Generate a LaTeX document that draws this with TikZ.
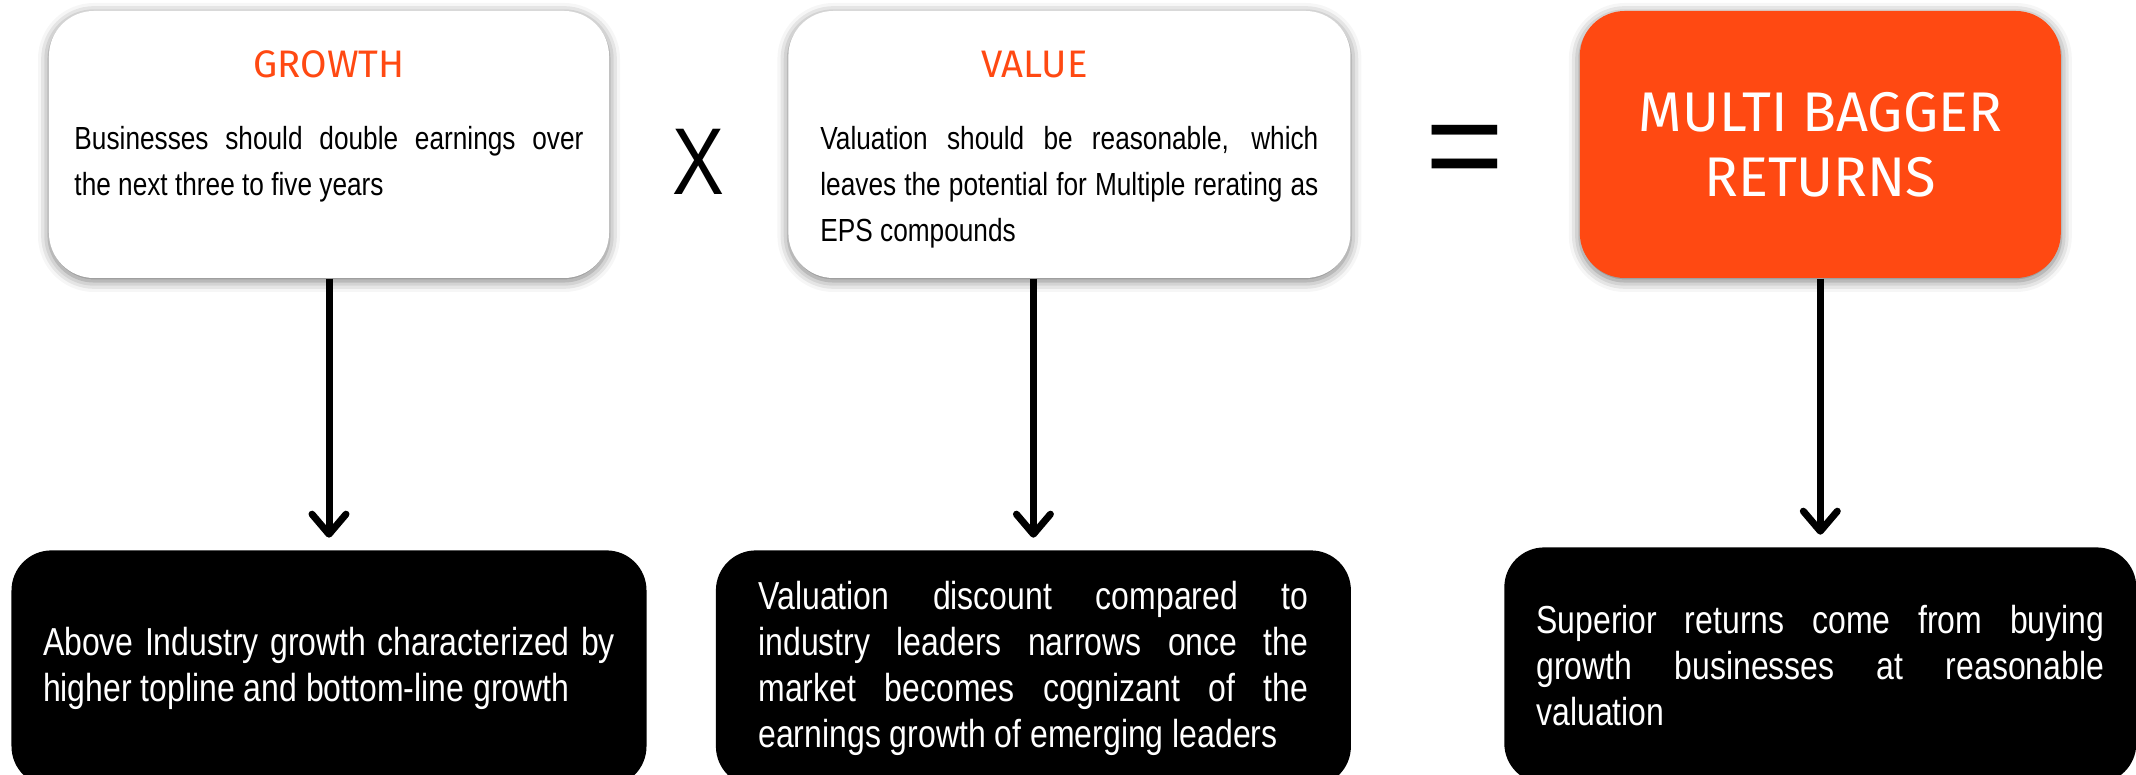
\documentclass[tikz,border=0pt]{standalone}
\usepackage{fontspec}
\setmainfont{Liberation Sans}[FakeStretch=0.82]
\newfontfamily\headfont{Fira Sans}
\newfontfamily\signfont{Liberation Sans}
\usepackage{tikz}
\usetikzlibrary{arrows.meta,positioning,calc,shadows.blur}
\definecolor{brandorange}{RGB}{255,73,18}
\hyphenpenalty=10000
\exhyphenpenalty=10000
\hbadness=10000

\begin{document}
\begin{tikzpicture}[
    topbox/.style={fill=white, rounded corners=0.45cm, minimum height=2.67cm, inner sep=0pt,
        blur shadow={shadow xshift=0cm, shadow yshift=-0.03cm, shadow blur radius=0.11cm, shadow opacity=55}},
    boxtitle/.style={text=brandorange, inner sep=0pt, font=\headfont\fontsize{10.9}{12}\selectfont},
    toptext/.style={anchor=north, align=justify, inner sep=0pt, font=\fontsize{9.1}{13.1}\selectfont},
    bottombox/.style={fill=black, text=white, rounded corners=0.4cm, minimum width=6.35cm, minimum height=2.36cm,
        inner sep=0pt, align=justify, font=\fontsize{11.1}{13}\selectfont},
    opsign/.style={inner sep=0pt},
    link/.style={line width=0.07cm, -{Straight Barb[length=0.2cm, width=0.34cm, round]}, shorten >=0.12cm}
]
            \useasboundingbox (0,0) rectangle (21.36,-7.75);
            \clip (0,0) rectangle (21.36,-7.75);

            % Growth
            \node[topbox, minimum width=5.60cm] (growth) at (3.29,-1.445) {};
            \node[boxtitle] (growthT) at ([yshift=-0.54cm]growth.north) {GROWTH};
            \node[toptext, text width=5.09cm] (growthD) at ([yshift=-1.15cm]growth.north) {
                Businesses should double earnings over\linebreak the next three to five years
            };

            % Value
            \node[topbox, minimum width=5.62cm, right=1.78cm of growth] (value) {};
            \node[boxtitle] (valueT) at ([xshift=-0.35cm, yshift=-0.54cm]value.north) {VALUE};
            \node[toptext, text width=4.98cm] (valueD) at ([yshift=-1.15cm]value.north) {
                Valuation should be reasonable, which\linebreak leaves the potential for Multiple rerating as\linebreak EPS compounds
            };

            % Result
            \node[topbox, minimum width=4.81cm, right=2.28cm of value, fill=brandorange, text=white, align=center,
                font=\headfont\fontsize{15.9}{18.5}\selectfont] (multi) {MULTI BAGGER\\RETURNS};

            % Signs
            \node[opsign, font=\fontsize{27}{27}\selectfont] (times) at ($(growth.east)!0.5!(value.west)+(0,-0.17)$) {X};
            \node[opsign, font=\signfont\fontsize{38.4}{38.4}\selectfont] (equals) at ($(value.east)!0.5!(multi.west)+(0,-0.14)$) {=};

            % Outcomes
            \node[bottombox, text width=5.72cm, below=2.71cm of growth] (growthR) {
                Above Industry growth characterized by\linebreak higher topline and bottom-line growth
            };
            \node[bottombox, text width=5.50cm, below=2.71cm of value, xshift=-0.36cm] (valueR) {
                Valuation discount compared to\linebreak industry leaders narrows once the\linebreak market becomes cognizant of the\linebreak earnings growth of emerging leaders
            };
            \node[bottombox, text width=5.68cm, minimum width=6.32cm, below=2.71cm of multi, yshift=0.03cm] (multiR) {
                Superior returns come from buying\linebreak growth businesses at reasonable\linebreak valuation
            };

            % Arrows
            \draw[link] (growth) -- (growthR);
            \draw[link] (value.south -| valueR.north) -- (valueR.north);
            \draw[link] (multi) -- (multiR);
        \end{tikzpicture}
\end{document}
